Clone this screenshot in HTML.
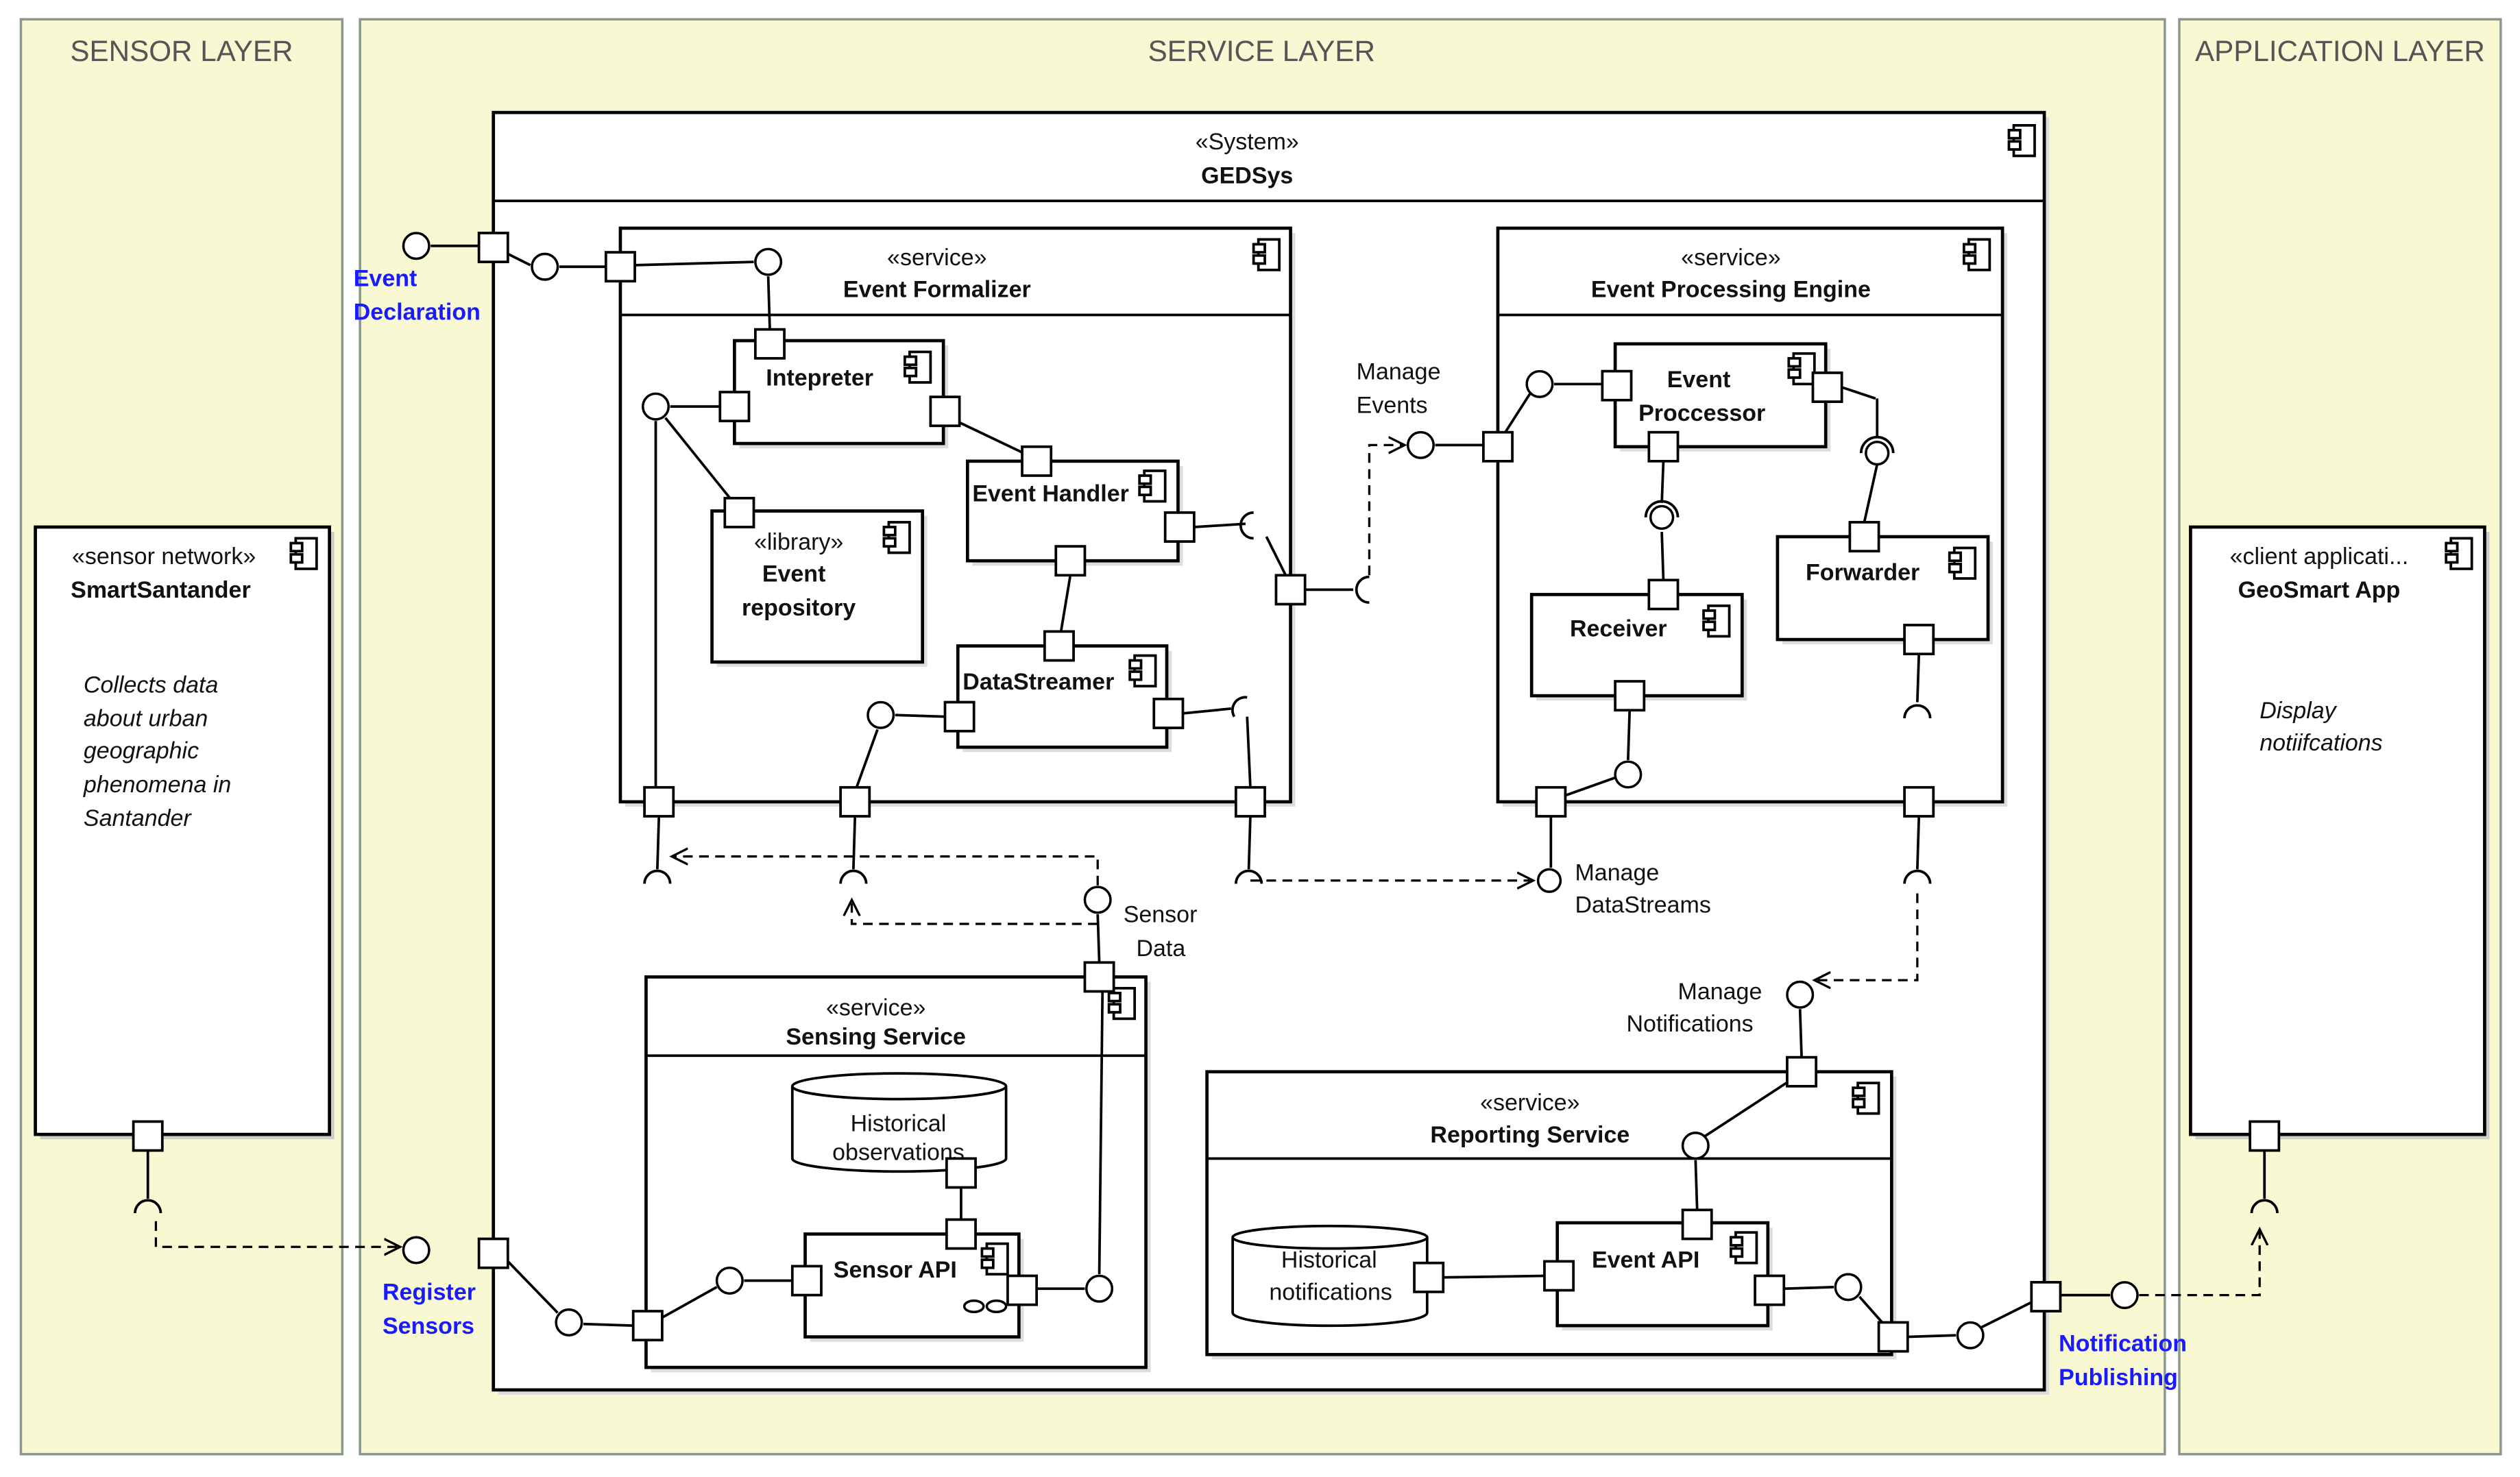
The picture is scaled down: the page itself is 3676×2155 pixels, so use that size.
<!DOCTYPE html>
<html><head><meta charset="utf-8"><style>
html,body{margin:0;padding:0;background:#fff}
svg{display:block}
text{font-family:"Liberation Sans",sans-serif;font-size:14.5px;fill:#111}
.b{font-weight:bold}
.c{text-anchor:middle}
.i{font-style:italic}
.bl{fill:#1a1aff;font-weight:bold}
.lt{font-size:18px;fill:#555;text-anchor:middle}
.box{fill:#fff;stroke:#000;stroke-width:2}
.ln{stroke:#000;stroke-width:1.6;fill:none}
.dash{stroke:#000;stroke-width:1.4;fill:none;stroke-dasharray:6,4}
.pt{fill:#fff;stroke:#000;stroke-width:1.6}
.ci{fill:#fff;stroke:#000;stroke-width:1.5}
</style></head><body>
<svg width="3676" height="2155" viewBox="0 0 1568 919.2" xmlns="http://www.w3.org/2000/svg">
<defs>
<symbol id="ic" viewBox="0 0 20 22" overflow="visible">
<rect x="4" y="1" width="13" height="19" fill="#fff" stroke="#000" stroke-width="1.6"/>
<rect x="1" y="4" width="7" height="5" fill="#fff" stroke="#000" stroke-width="1.6"/>
<rect x="1" y="11" width="7" height="5" fill="#fff" stroke="#000" stroke-width="1.6"/>
</symbol>
<marker id="ar" markerWidth="12" markerHeight="12" refX="10" refY="6" orient="auto" markerUnits="userSpaceOnUse">
<path d="M0,1 L10,6 L0,11" fill="none" stroke="#000" stroke-width="1.4"/></marker>
</defs>
<rect x="0" y="0" width="1568" height="920" fill="#fff"/>
<rect x="13" y="12" width="200" height="893" fill="#f8f8d2" stroke="#8a9a8a" stroke-width="1.5"/>
<rect x="224" y="12" width="1123" height="893" fill="#f8f8d2" stroke="#8a9a8a" stroke-width="1.5"/>
<rect x="1356" y="12" width="200" height="893" fill="#f8f8d2" stroke="#8a9a8a" stroke-width="1.5"/>
<text class="lt" x="113" y="38">SENSOR LAYER</text>
<text class="lt" x="785" y="38">SERVICE LAYER</text>
<text class="lt" x="1456" y="38">APPLICATION LAYER</text>

<rect x="310" y="73" width="965" height="795" fill="#ddd"/>
<rect class="box" x="307" y="70" width="965" height="795"/>
<line class="ln" x1="307" y1="125" x2="1272" y2="125" stroke-width="2"/>
<text class="c" x="776" y="93">«System»</text>
<text class="c b" x="776" y="114">GEDSys</text>
<use href="#ic" x="1249" y="77" width="20" height="22"/>

<rect x="25" y="331" width="183" height="378" fill="#ccc"/>
<rect class="box" x="22" y="328" width="183" height="378"/>
<text class="c" x="102" y="351">«sensor network»</text>
<text class="c b" x="100" y="372">SmartSantander</text>
<use href="#ic" x="180" y="334" width="20" height="22"/>
<text class="i" x="52" y="431">Collects data</text>
<text class="i" x="52" y="452">about urban</text>
<text class="i" x="52" y="472">geographic</text>
<text class="i" x="52" y="493">phenomena in</text>
<text class="i" x="52" y="514">Santander</text>

<rect x="1366" y="331" width="183" height="378" fill="#ccc"/>
<rect class="box" x="1363" y="328" width="183" height="378"/>
<text class="c" x="1443" y="351">«client applicati...</text>
<text class="c b" x="1443" y="372">GeoSmart App</text>
<use href="#ic" x="1521" y="334" width="20" height="22"/>
<text class="i" x="1406" y="447">Display</text>
<text class="i" x="1406" y="467">notiifcations</text>

<rect x="389" y="145" width="417" height="357" fill="#ddd"/>
<rect class="box" x="386" y="142" width="417" height="357"/>
<line class="ln" x1="386" y1="196" x2="803" y2="196" stroke-width="2"/>
<text class="c" x="583" y="165">«service»</text>
<text class="c b" x="583" y="185">Event Formalizer</text>
<use href="#ic" x="779" y="148" width="20" height="22"/>

<rect x="935" y="145" width="314" height="357" fill="#ddd"/>
<rect class="box" x="932" y="142" width="314" height="357"/>
<line class="ln" x1="932" y1="196" x2="1246" y2="196" stroke-width="2"/>
<text class="c" x="1077" y="165">«service»</text>
<text class="c b" x="1077" y="185">Event Processing Engine</text>
<use href="#ic" x="1221" y="148" width="20" height="22"/>

<rect x="405" y="611" width="311" height="243" fill="#ddd"/>
<rect class="box" x="402" y="608" width="311" height="243"/>
<line class="ln" x1="402" y1="657" x2="713" y2="657" stroke-width="2"/>
<text class="c" x="545" y="632">«service»</text>
<text class="c b" x="545" y="650">Sensing Service</text>
<use href="#ic" x="689" y="614" width="20" height="22"/>

<rect x="754" y="670" width="426" height="176" fill="#ddd"/>
<rect class="box" x="751" y="667" width="426" height="176"/>
<line class="ln" x1="751" y1="721" x2="1177" y2="721" stroke-width="2"/>
<text class="c" x="952" y="691">«service»</text>
<text class="c b" x="952" y="711">Reporting Service</text>
<use href="#ic" x="1152" y="673" width="20" height="22"/>

<g>
<rect x="460" y="215" width="130" height="64" fill="#ddd"/><rect class="box" x="457" y="212" width="130" height="64"/>
<text class="c b" x="510" y="240">Intepreter</text><use href="#ic" x="562" y="218" width="20" height="22"/>
<rect x="605" y="290" width="131" height="62" fill="#ddd"/><rect class="box" x="602" y="287" width="131" height="62"/>
<text class="b" x="605" y="312">Event Handler</text><use href="#ic" x="708" y="292" width="20" height="22"/>
<rect x="446" y="321" width="131" height="94" fill="#ddd"/><rect class="box" x="443" y="318" width="131" height="94"/>
<text class="c" x="497" y="342">«library»</text><text class="c b" x="494" y="362">Event</text><text class="c b" x="497" y="383">repository</text>
<use href="#ic" x="549" y="324" width="20" height="22"/>
<rect x="599" y="405" width="130" height="63" fill="#ddd"/><rect class="box" x="596" y="402" width="130" height="63"/>
<text class="b" x="599" y="429">DataStreamer</text><use href="#ic" x="702" y="407" width="20" height="22"/>
<rect x="1008" y="217" width="131" height="64" fill="#ddd"/><rect class="box" x="1005" y="214" width="131" height="64"/>
<text class="c b" x="1057" y="241">Event</text><text class="c b" x="1059" y="262">Proccessor</text><use href="#ic" x="1112" y="219" width="20" height="22"/>
<rect x="956" y="373" width="131" height="63" fill="#ddd"/><rect class="box" x="953" y="370" width="131" height="63"/>
<text class="c b" x="1007" y="396">Receiver</text><use href="#ic" x="1059" y="376" width="20" height="22"/>
<rect x="1109" y="337" width="131" height="64" fill="#ddd"/><rect class="box" x="1106" y="334" width="131" height="64"/>
<text class="c b" x="1159" y="361">Forwarder</text><use href="#ic" x="1212" y="340" width="20" height="22"/>
<rect x="504" y="771" width="133" height="64" fill="#ddd"/><rect class="box" x="501" y="768" width="133" height="64"/>
<text class="c b" x="557" y="795">Sensor API</text><use href="#ic" x="610" y="773" width="20" height="22"/>
<ellipse cx="606" cy="813" rx="6" ry="3.5" class="ci"/><ellipse cx="620" cy="813" rx="6" ry="3.5" class="ci"/>
<rect x="972" y="764" width="131" height="64" fill="#ddd"/><rect class="box" x="969" y="761" width="131" height="64"/>
<text class="c b" x="1024" y="789">Event  API</text><use href="#ic" x="1076" y="766" width="20" height="22"/>
</g>

<path d="M493,676 L493,721 A66,8 0 0 0 626,721 L626,676" fill="#fff" stroke="#000" stroke-width="1.6"/>
<ellipse cx="559.5" cy="676" rx="66.5" ry="8" fill="#fff" stroke="#000" stroke-width="1.6"/>
<text class="c" x="559" y="704">Historical</text><text class="c" x="559" y="722">observations</text>
<path d="M767,770 L767,817 A60,8 0 0 0 888,817 L888,770" fill="#fff" stroke="#000" stroke-width="1.6"/>
<ellipse cx="827.5" cy="770" rx="60.5" ry="7" fill="#fff" stroke="#000" stroke-width="1.6"/>
<text class="c" x="827" y="789">Historical</text><text class="c" x="828" y="809">notifications</text>

<g class="ln">
<line x1="268" y1="153" x2="298" y2="153"/>
<line x1="316" y1="158" x2="330" y2="165"/>
<line x1="348" y1="166" x2="377" y2="166"/>
<line x1="395" y1="165" x2="469" y2="163"/>
<line x1="478" y1="172" x2="479" y2="205"/>
<line x1="417" y1="253" x2="448" y2="253"/>
<line x1="414" y1="260" x2="455" y2="311"/>
<line x1="408" y1="262" x2="408" y2="490"/>
<line x1="595" y1="262" x2="637" y2="282"/>
<line x1="666" y1="358" x2="660" y2="394"/>
<line x1="743" y1="328" x2="775" y2="326"/>
<line x1="788" y1="334" x2="800" y2="358"/>
<line x1="812" y1="367" x2="842" y2="367"/>
<line x1="588" y1="446" x2="557" y2="445"/>
<line x1="546" y1="454" x2="533" y2="490"/>
<line x1="736" y1="444" x2="766" y2="441"/>
<line x1="776" y1="446" x2="778" y2="490"/>
<line x1="410" y1="508" x2="409" y2="541"/>
<line x1="532" y1="508" x2="531" y2="541"/>
<line x1="778" y1="508" x2="777" y2="541"/>
<line x1="893" y1="277" x2="923" y2="277"/>
<line x1="936" y1="270" x2="952" y2="245"/>
<line x1="967" y1="239" x2="997" y2="239"/>
<line x1="1035" y1="287" x2="1034" y2="313"/>
<line x1="1034" y1="331" x2="1035" y2="361"/>
<line x1="1146" y1="241" x2="1167" y2="248"/>
<line x1="1168" y1="248" x2="1168" y2="272"/>
<line x1="1168" y1="289" x2="1160" y2="325"/>
<line x1="1014" y1="442" x2="1013" y2="473"/>
<line x1="1005" y1="484" x2="974" y2="495"/>
<line x1="965" y1="508" x2="965" y2="540"/>
<line x1="1194" y1="407" x2="1193" y2="437"/>
<line x1="1194" y1="508" x2="1193" y2="541"/>
<line x1="1120" y1="628" x2="1121" y2="658"/>
<line x1="1113" y1="673" x2="1061" y2="707"/>
<line x1="1055" y1="722" x2="1056" y2="753"/>
<line x1="961" y1="794" x2="898" y2="795"/>
<line x1="1110" y1="802" x2="1141" y2="801"/>
<line x1="1157" y1="807" x2="1172" y2="824"/>
<line x1="1187" y1="832" x2="1217" y2="831"/>
<line x1="1233" y1="826" x2="1265" y2="810"/>
<line x1="1282" y1="806" x2="1313" y2="806"/>
<line x1="1409" y1="716" x2="1409" y2="746"/>
<line x1="92" y1="716" x2="92" y2="746"/>
<line x1="316" y1="785" x2="347" y2="817"/>
<line x1="363" y1="824" x2="394" y2="825"/>
<line x1="412" y1="820" x2="446" y2="801"/>
<line x1="463" y1="797" x2="493" y2="797"/>
<line x1="598" y1="739" x2="598" y2="759"/>
<line x1="645" y1="802" x2="675" y2="802"/>
<line x1="686" y1="617" x2="684" y2="793"/>
<line x1="683" y1="569" x2="684" y2="599"/>
</g>

<g class="ln">
<path d="M401,550 A8,8 0 0 1 417,550"/>
<path d="M523,550 A8,8 0 0 1 539,550"/>
<path d="M769,550 A8,8 0 0 1 785,550"/>
<path d="M1185,550 A8,8 0 0 1 1201,550"/>
<path d="M1185,447 A8,8 0 0 1 1201,447"/>
<path d="M84,755 A8,8 0 0 1 100,755"/>
<path d="M1401,755 A8,8 0 0 1 1417,755"/>
<path d="M780,319 A8,8 0 0 0 780,335"/>
<path d="M852,359 A8,8 0 0 0 852,375"/>
<path d="M1024,322 A10,10 0 0 1 1044,322"/>
<path d="M1158,282 A10,10 0 0 1 1178,282"/>
<path d="M768,446 A8,8 0 0 1 776,434"/>
</g>

<g class="dash">
<path d="M852,358 L852,277 L874,277" marker-end="url(#ar)"/>
<path d="M683,551 L683,533 L418,533" marker-end="url(#ar)"/>
<path d="M683,575 L530,575 L530,560" marker-end="url(#ar)"/>
<path d="M778,548 L954,548" marker-end="url(#ar)"/>
<path d="M1193,556 L1193,610 L1129,610" marker-end="url(#ar)"/>
<path d="M97,760 L97,776 L249,776" marker-end="url(#ar)"/>
<path d="M1331,806 L1406,806 L1406,765" marker-end="url(#ar)"/>
</g>

<g class="ci">
<circle cx="259" cy="153" r="8"/><circle cx="339" cy="166" r="8"/><circle cx="478" cy="163" r="8"/>
<circle cx="408" cy="253" r="8"/><circle cx="548" cy="445" r="8"/><circle cx="884" cy="277" r="8"/>
<circle cx="958" cy="239" r="8"/><circle cx="1034" cy="322" r="7"/><circle cx="1168" cy="282" r="7"/>
<circle cx="1013" cy="482" r="8"/><circle cx="964" cy="548" r="7"/><circle cx="683" cy="560" r="8"/>
<circle cx="1120" cy="619" r="8"/><circle cx="1055" cy="713" r="8"/><circle cx="1150" cy="801" r="8"/>
<circle cx="1226" cy="831" r="8"/><circle cx="1322" cy="806" r="8"/><circle cx="259" cy="778" r="8"/>
<circle cx="354" cy="823" r="8"/><circle cx="454" cy="797" r="8"/><circle cx="684" cy="802" r="8"/>
</g>

<g class="pt">
<rect x="298" y="145" width="18" height="18"/><rect x="377" y="157" width="18" height="18"/>
<rect x="470" y="205" width="18" height="18"/><rect x="448" y="244" width="18" height="18"/>
<rect x="451" y="310" width="18" height="18"/><rect x="579" y="247" width="18" height="18"/>
<rect x="636" y="278" width="18" height="18"/><rect x="725" y="319" width="18" height="18"/>
<rect x="657" y="340" width="18" height="18"/><rect x="794" y="358" width="18" height="18"/>
<rect x="650" y="393" width="18" height="18"/><rect x="588" y="437" width="18" height="18"/>
<rect x="718" y="435" width="18" height="18"/><rect x="401" y="490" width="18" height="18"/>
<rect x="523" y="490" width="18" height="18"/><rect x="769" y="490" width="18" height="18"/>
<rect x="923" y="269" width="18" height="18"/><rect x="997" y="231" width="18" height="18"/>
<rect x="1026" y="269" width="18" height="18"/><rect x="1128" y="232" width="18" height="18"/>
<rect x="1026" y="361" width="18" height="18"/><rect x="1151" y="325" width="18" height="18"/>
<rect x="1005" y="424" width="18" height="18"/><rect x="1185" y="389" width="18" height="18"/>
<rect x="956" y="490" width="18" height="18"/><rect x="1185" y="490" width="18" height="18"/>
<rect x="675" y="599" width="18" height="18"/><rect x="589" y="721" width="18" height="18"/>
<rect x="589" y="759" width="18" height="18"/><rect x="493" y="788" width="18" height="18"/>
<rect x="627" y="794" width="18" height="18"/><rect x="298" y="771" width="18" height="18"/>
<rect x="394" y="816" width="18" height="18"/><rect x="1112" y="658" width="18" height="18"/>
<rect x="1047" y="753" width="18" height="18"/><rect x="961" y="785" width="18" height="18"/>
<rect x="880" y="786" width="18" height="18"/><rect x="1092" y="794" width="18" height="18"/>
<rect x="1169" y="823" width="18" height="18"/><rect x="1264" y="798" width="18" height="18"/>
<rect x="83" y="698" width="18" height="18"/><rect x="1400" y="698" width="18" height="18"/>
</g>

<text class="bl" x="220" y="178">Event</text><text class="bl" x="220" y="199">Declaration</text>
<text class="bl" x="238" y="809">Register</text><text class="bl" x="238" y="830">Sensors</text>
<text class="bl" x="1281" y="841">Notification</text><text class="bl" x="1281" y="862">Publishing</text>
<text x="844" y="236">Manage</text><text x="844" y="257">Events</text>
<text x="699" y="574">Sensor</text><text x="707" y="595">Data</text>
<text x="980" y="548">Manage</text><text x="980" y="568">DataStreams</text>
<text x="1044" y="622">Manage</text><text x="1012" y="642">Notifications</text>
</svg>
</body></html>
